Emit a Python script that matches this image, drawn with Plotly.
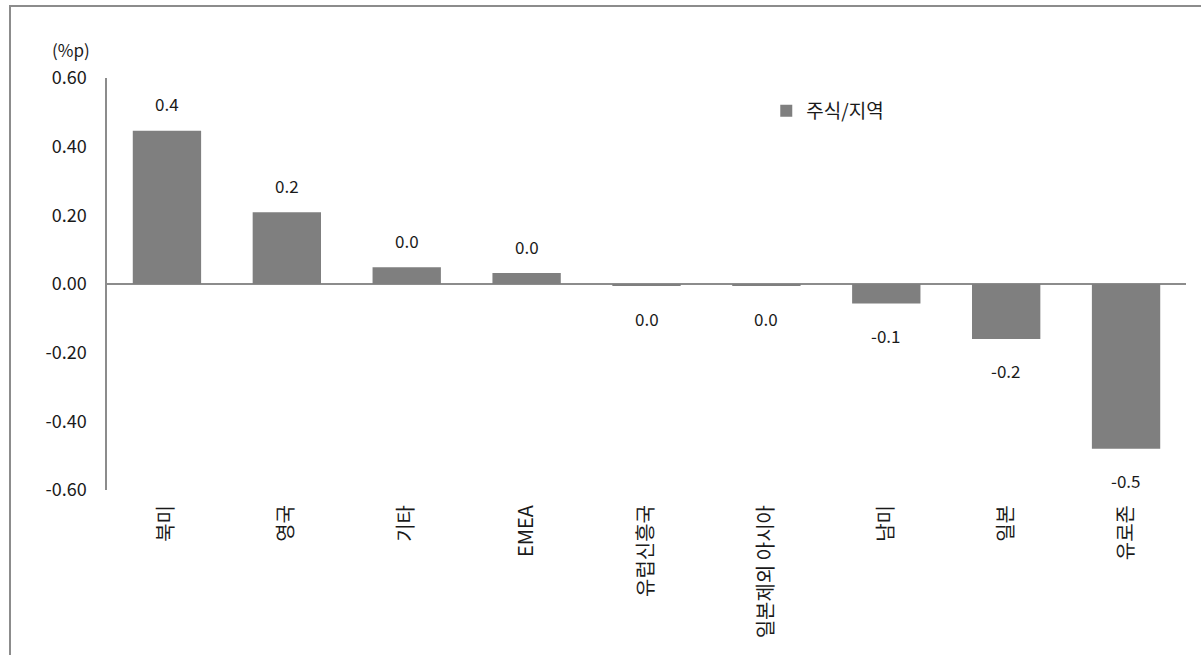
import plotly.graph_objects as go

# 지역별 주식 기여도 (%p)
regions = ["북미", "영국", "기타", "EMEA", "유럽신흥국", "일본제외 아시아", "남미", "일본", "유로존"]
equity_contrib = [0.446, 0.209, 0.049, 0.032, -0.006, -0.006, -0.057, -0.160, -0.480]
y_ticks = [0.6, 0.4, 0.2, 0.0, -0.2, -0.4, -0.6]
series_name = "주식/지역"
unit_label = "(%p)"

FONT = "Noto Sans CJK KR, Noto Sans, sans-serif"
BAR = "#7f7f7f"
AXIS = "#8c8c8c"
TXT = "#1a1a1a"

fig = go.Figure()
fig.add_trace(go.Bar(
    x=regions,
    y=equity_contrib,
    name=series_name,
    marker=dict(color=BAR, line=dict(width=0)),
    showlegend=True,
))


def fmt(v, digits):
    s = f"{v:.{digits}f}"
    return s[1:] if float(s) == 0 and s.startswith("-") else s


# value labels above positive bars, below negative bars
annotations = []
for r, v in zip(regions, equity_contrib):
    annotations.append(dict(
        x=r, y=v, xref="x", yref="y",
        text=fmt(v, 1), showarrow=False,
        yanchor="middle",
        yshift=27 if v >= 0 else -32,
        font=dict(family=FONT, size=17, color=TXT),
    ))

annotations.append(dict(
    x=-0.033, y=1.068, xref="paper", yref="paper",
    text=unit_label, showarrow=False,
    xanchor="center", yanchor="middle",
    font=dict(family=FONT, size=17, color=TXT),
))

# chart-area frame (top and left edges)
shapes = [dict(
    type="path", xref="paper", yref="paper",
    path="M -0.0899,-0.45 L -0.0899,1.1748 L 1.02,1.1748",
    line=dict(color=AXIS, width=2),
)]

fig.update_layout(
    width=1201, height=655,
    margin=dict(l=107, r=15, t=78, b=165),
    paper_bgcolor="white", plot_bgcolor="white",
    font=dict(family=FONT, size=17, color=TXT),
    bargap=0.43,
    annotations=annotations,
    shapes=shapes,
    legend=dict(
        x=0.611, y=0.92, xanchor="left", yanchor="middle",
        bgcolor="rgba(0,0,0,0)", itemwidth=30,
        font=dict(family=FONT, size=19, color=TXT),
    ),
    xaxis=dict(
        type="category",
        tickangle=-90,
        showgrid=False, showline=False, zeroline=False,
        ticks="", ticklabelstandoff=10,
        tickfont=dict(family=FONT, size=20, color=TXT),
    ),
    yaxis=dict(
        range=[-0.6, 0.6],
        tickvals=y_ticks,
        ticktext=[fmt(v, 2) for v in y_ticks],
        showgrid=False,
        showline=True, linecolor=AXIS, linewidth=1.5,
        zeroline=True, zerolinecolor=AXIS, zerolinewidth=2,
        ticks="", ticklabelstandoff=15,
        tickfont=dict(family=FONT, size=18, color=TXT),
    ),
)

fig.write_html("out.html")
